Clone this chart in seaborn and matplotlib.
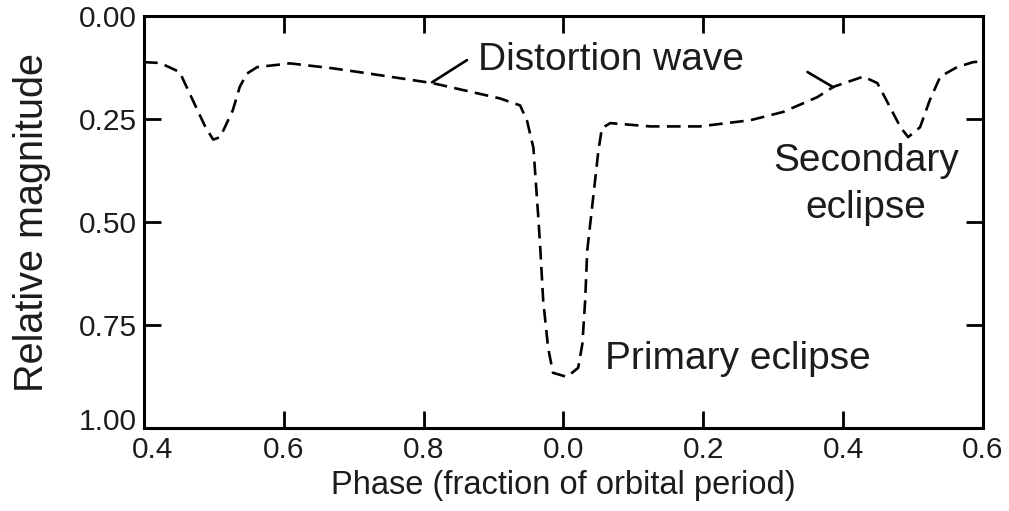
import numpy as np
import pandas as pd
import matplotlib
matplotlib.use("Agg")
import matplotlib.pyplot as plt
from matplotlib.transforms import ScaledTranslation
import seaborn as sns

# ---- data ----
phase = [0.400, 0.423, 0.451, 0.470, 0.488, 0.499, 0.509, 0.527, 0.537, 0.547,
         0.562, 0.609, 0.670, 0.719, 0.813, 0.909, 0.938, 0.948, 0.957, 0.964,
         0.967, 0.971, 0.978, 0.985, 1.005, 1.021, 1.027, 1.031, 1.034, 1.042,
         1.050, 1.055, 1.067, 1.124, 1.195, 1.267, 1.314, 1.363, 1.386, 1.429,
         1.449, 1.467, 1.482, 1.493, 1.510, 1.524, 1.539, 1.563, 1.586, 1.600]
magnitude = [0.112, 0.114, 0.136, 0.205, 0.270, 0.300, 0.294, 0.229, 0.172, 0.140,
             0.124, 0.115, 0.127, 0.139, 0.163, 0.200, 0.217, 0.255, 0.320, 0.489,
             0.569, 0.691, 0.805, 0.866, 0.876, 0.854, 0.796, 0.691, 0.569, 0.448,
             0.326, 0.272, 0.260, 0.268, 0.268, 0.253, 0.233, 0.197, 0.172, 0.147,
             0.163, 0.221, 0.270, 0.294, 0.270, 0.204, 0.147, 0.124, 0.112, 0.110]

x_ticks = [0.4, 0.6, 0.8, 1.0, 1.2, 1.4, 1.6]
x_tick_labels = ["0.4", "0.6", "0.8", "0.0", "0.2", "0.4", "0.6"]
y_ticks = [0.0, 0.25, 0.5, 0.75, 1.0]
y_tick_labels = ["0.00", "0.25", "0.50", "0.75", "1.00"]

df = pd.DataFrame({"phase": phase, "magnitude": magnitude})

sns.set_theme(style="ticks")
plt.rcParams["font.family"] = ["Liberation Sans", "DejaVu Sans"]

fig = plt.figure(figsize=(10.09, 5.11), dpi=100)
ax = fig.add_axes([0.1427, 0.1624, 0.8315, 0.8063])

txt = "#1c1c1c"
sns.lineplot(data=df, x="phase", y="magnitude", ax=ax, color="black",
             lw=1.9, linestyle=(0, (5.2, 2.8)), sort=False)

ax.set_xlim(0.4, 1.6)
ax.set_ylim(1.0, 0.0)
ax.set_xticks(x_ticks)
ax.set_xticklabels(x_tick_labels)
ax.set_yticks(y_ticks)
ax.set_yticklabels(y_tick_labels)

ax.tick_params(axis="both", direction="in", length=12, width=2, color="black",
               labelsize=21.5, labelcolor=txt, pad=5)
ax.tick_params(axis="x", pad=6)
ax.tick_params(top=True, right=True)

# corner labels nudged apart as in the reference
xl0 = ax.get_xticklabels()[0]
xl0.set_transform(xl0.get_transform() + ScaledTranslation(0.09, 0, fig.dpi_scale_trans))
yl_last = ax.get_yticklabels()[-1]
yl_last.set_transform(yl_last.get_transform() + ScaledTranslation(0, 0.09, fig.dpi_scale_trans))

for s in ax.spines.values():
    s.set_linewidth(2.2)
    s.set_color("black")

ax.set_xlabel("Phase (fraction of orbital period)", fontsize=23.5, color=txt)
ax.set_ylabel("Relative magnitude", fontsize=28.5, color=txt)
ax.xaxis.set_label_coords(0.5, -0.103)
ax.yaxis.set_label_coords(-0.111, 0.5)

# annotations
ax.text(0.878, 0.107, "Distortion wave", fontsize=28, color=txt,
        ha="left", va="center")
ax.annotate("", xy=(0.812, 0.161), xytext=(0.862, 0.107),
            arrowprops=dict(arrowstyle="-", color="black", lw=1.9,
                            shrinkA=0, shrinkB=0))
ax.annotate("", xy=(1.386, 0.173), xytext=(1.349, 0.136),
            arrowprops=dict(arrowstyle="-", color="black", lw=1.9,
                            shrinkA=0, shrinkB=0))
ax.text(1.433, 0.409, "Secondary\neclipse", fontsize=28, color=txt,
        ha="center", va="center", linespacing=1.42)
ax.text(1.0595, 0.832, "Primary eclipse", fontsize=28, color=txt,
        ha="left", va="center")

fig.savefig("out.png", dpi=100, facecolor="white")
